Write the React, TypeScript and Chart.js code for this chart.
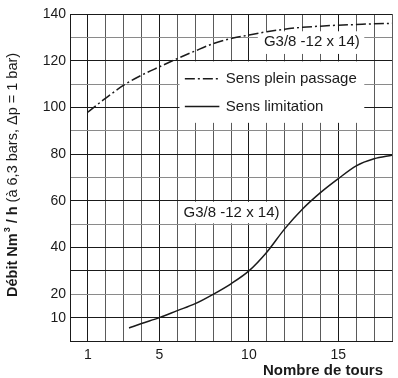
import React, { useEffect, useRef } from "react";
import { Chart, registerables } from "chart.js";

Chart.register(...registerables);

// Sens plein passage (dash-dot)
const pleinTours = [1, 2, 3, 4, 5, 6, 7, 8, 9, 10, 11, 12, 13, 14, 15, 16, 17, 18];
const pleinDebit = [98, 104, 109.5, 113.8, 117.4, 120.9, 124.2, 127.3, 129.5, 131, 132.4, 133.5, 134.3, 134.8, 135.2, 135.5, 135.8, 136];

// Sens limitation (solid)
const limitTours = [3.3, 4, 5, 6, 7, 8, 9, 10, 11, 12, 13, 14, 15, 16, 17, 18];
const limitDebit = [5.6, 7.5, 10, 13, 16, 20, 24.5, 30, 38, 48, 56.5, 63.5, 69.5, 75, 78, 79.5];

const xLabels = [1, 5, 10, 15];
const yLabels = [10, 20, 40, 60, 80, 100, 120, 140];
const xDark = [0, 1, 5, 10, 15];
const yGrey = [130, 110, 90, 70, 50, 20];

const legendPlein = "Sens plein passage";
const legendLimit = "Sens limitation";
const curveLabel = "G3/8 -12 x 14)";
const xTitle = "Nombre de tours";
const yTitleBold = "Débit Nm";
const yTitleSup = "3";
const yTitleBold2 = " / h ";
const yTitleNormal = "(à 6,3 bars, Δp = 1 bar)";

const FONT = "'Liberation Sans', Arial, Helvetica, sans-serif";
const DASHDOT = [10, 3, 2, 3];

const annotPlugin = {
  id: "annot",
  beforeDatasetsDraw(chart: any) {
    const { ctx, scales } = chart;
    const x = scales.x, y = scales.y;
    const px = (v: number) => x.getPixelForValue(v);
    const py = (v: number) => y.getPixelForValue(v);
    ctx.save();
    ctx.fillStyle = "#fff";
    const box = (x0: number, x1: number, y0: number, y1: number) => {
      ctx.fillRect(px(x0), py(y1), px(x1) - px(x0), py(y0) - py(y1));
    };
    box(10.5, 16.45, 122.9, 132.6);
    box(6.12, 16.45, 93.4, 119.7);
    box(6.14, 11.9, 50.4, 59.6);

    ctx.fillStyle = "#1a1a1a";
    ctx.font = `15px ${FONT}`;
    ctx.textBaseline = "middle";
    ctx.textAlign = "center";
    ctx.fillText(curveLabel, px(13.52), py(128));
    ctx.fillText(curveLabel, px(9.03), py(55));

    ctx.textAlign = "left";
    ctx.fillText(legendPlein, px(8.71), py(112.3));
    ctx.fillText(legendLimit, px(8.71), py(100.4));

    ctx.strokeStyle = "#1a1a1a";
    ctx.lineWidth = 1.4;
    ctx.setLineDash(DASHDOT);
    ctx.beginPath();
    ctx.moveTo(px(6.42), py(112.3));
    ctx.lineTo(px(8.35), py(112.3));
    ctx.stroke();
    ctx.setLineDash([]);
    ctx.beginPath();
    ctx.moveTo(px(6.42), py(100.4));
    ctx.lineTo(px(8.35), py(100.4));
    ctx.stroke();
    ctx.restore();
  },
  afterDraw(chart: any) {
    const { ctx } = chart;
    ctx.save();
    ctx.fillStyle = "#1a1a1a";
    // x title
    ctx.font = `bold 15px ${FONT}`;
    ctx.textAlign = "right";
    ctx.textBaseline = "middle";
    ctx.fillText(xTitle, 383, 371);
    // y title
    ctx.translate(13, 297);
    ctx.rotate(-Math.PI / 2);
    ctx.textAlign = "left";
    let cx = 0;
    ctx.font = `bold 14.5px ${FONT}`;
    ctx.fillText(yTitleBold, cx, 0);
    cx += ctx.measureText(yTitleBold).width + 1;
    ctx.font = `bold 9px ${FONT}`;
    ctx.fillText(yTitleSup, cx, -5);
    cx += ctx.measureText(yTitleSup).width;
    ctx.font = `bold 14.5px ${FONT}`;
    ctx.fillText(yTitleBold2, cx, 0);
    cx += ctx.measureText(yTitleBold2).width;
    ctx.font = `14.5px ${FONT}`;
    ctx.fillText(yTitleNormal, cx, 0);
    ctx.restore();
  },
};

export default function App() {
  const ref = useRef<HTMLCanvasElement | null>(null);
  useEffect(() => {
    if (!ref.current) return;
    const chart = new Chart(ref.current, {
      type: "line",
      data: {
        datasets: [
          {
            label: legendPlein,
            data: pleinTours.map((t, i) => ({ x: t, y: pleinDebit[i] })),
            borderColor: "#1a1a1a",
            borderWidth: 1.5,
            borderDash: DASHDOT,
            pointRadius: 0,
            cubicInterpolationMode: "monotone",
            fill: false,
          },
          {
            label: legendLimit,
            data: limitTours.map((t, i) => ({ x: t, y: limitDebit[i] })),
            borderColor: "#1a1a1a",
            borderWidth: 1.5,
            pointRadius: 0,
            cubicInterpolationMode: "monotone",
            fill: false,
          },
        ],
      },
      options: {
        responsive: false,
        animation: false,
        layout: { padding: { left: 0, top: 14, right: 1, bottom: 0 } },
        plugins: { legend: { display: false }, tooltip: { enabled: false }, title: { display: false } },
        scales: {
          x: {
            type: "linear",
            min: 0,
            max: 18,
            afterFit: (s: any) => { s.height = 37; },
            ticks: {
              stepSize: 1,
              autoSkip: false,
              maxRotation: 0,
              padding: 6,
              color: "#1a1a1a",
              font: { family: FONT, size: 14 },
              callback: (v: any) => (xLabels.includes(Number(v)) ? String(v) : ""),
            },
            grid: {
              drawTicks: false,
              lineWidth: 1,
              color: (c: any) => (xDark.includes(c.tick?.value) ? "#1a1a1a" : "#5a5a5a"),
            },
            border: { display: true, color: "#1a1a1a", width: 1 },
          },
          y: {
            type: "linear",
            min: 0,
            max: 140,
            afterFit: (s: any) => { s.width = 70; },
            ticks: {
              stepSize: 10,
              autoSkip: false,
              padding: 4,
              color: "#1a1a1a",
              font: { family: FONT, size: 14 },
              callback: (v: any) => (yLabels.includes(Number(v)) ? String(v) : ""),
            },
            grid: {
              drawTicks: false,
              lineWidth: 1,
              color: (c: any) => (yGrey.includes(c.tick?.value) ? "#8a8a8a" : "#1a1a1a"),
            },
            border: { display: true, color: "#1a1a1a", width: 1 },
          },
        },
      },
      plugins: [annotPlugin],
    });
    return () => chart.destroy();
  }, []);
  return (
    <div style={{ position: "absolute", left: 0, top: 0, width: 398, height: 378, background: "#fff" }}>
      <canvas ref={ref} width={398} height={378} style={{ display: "block" }} />
    </div>
  );
}
